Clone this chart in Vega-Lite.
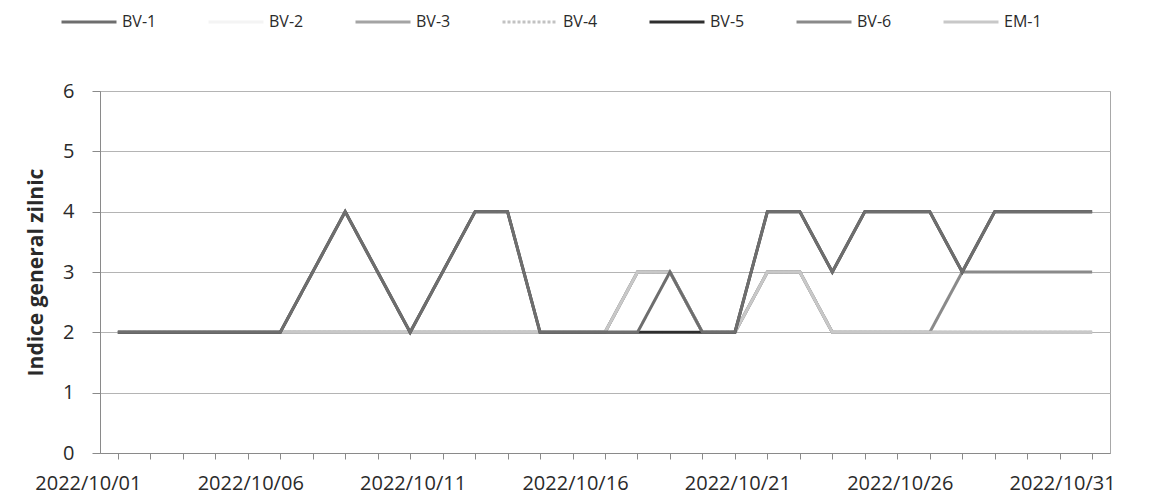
{
  "$schema": "https://vega.github.io/schema/vega-lite/v6.json",
  "width": 1010,
  "height": 362,
  "autosize": {"type": "none"},
  "padding": {"left": 100, "top": 91, "right": 56, "bottom": 49},
  "background": "white",
  "config": {
    "font": "Open Sans",
    "view": {"stroke": "#a8a8a8", "strokeWidth": 1},
    "axis": {"labelColor": "#2a2a2a", "titleColor": "#2a2a2a", "domainColor": "#8a8a8a", "tickColor": "#8a8a8a", "gridColor": "#b4b4b4"}
  },
  "data": {"values": [
    {"d":"2022/10/01","s":"BV-1","v":2},{"d":"2022/10/02","s":"BV-1","v":2},{"d":"2022/10/03","s":"BV-1","v":2},{"d":"2022/10/04","s":"BV-1","v":2},{"d":"2022/10/05","s":"BV-1","v":2},{"d":"2022/10/06","s":"BV-1","v":2},{"d":"2022/10/07","s":"BV-1","v":3},{"d":"2022/10/08","s":"BV-1","v":4},{"d":"2022/10/09","s":"BV-1","v":3},{"d":"2022/10/10","s":"BV-1","v":2},{"d":"2022/10/11","s":"BV-1","v":3},{"d":"2022/10/12","s":"BV-1","v":4},{"d":"2022/10/13","s":"BV-1","v":4},{"d":"2022/10/14","s":"BV-1","v":2},{"d":"2022/10/15","s":"BV-1","v":2},{"d":"2022/10/16","s":"BV-1","v":2},{"d":"2022/10/17","s":"BV-1","v":2},{"d":"2022/10/18","s":"BV-1","v":3},{"d":"2022/10/19","s":"BV-1","v":2},{"d":"2022/10/20","s":"BV-1","v":2},{"d":"2022/10/21","s":"BV-1","v":4},{"d":"2022/10/22","s":"BV-1","v":4},{"d":"2022/10/23","s":"BV-1","v":3},{"d":"2022/10/24","s":"BV-1","v":4},{"d":"2022/10/25","s":"BV-1","v":4},{"d":"2022/10/26","s":"BV-1","v":4},{"d":"2022/10/27","s":"BV-1","v":3},{"d":"2022/10/28","s":"BV-1","v":4},{"d":"2022/10/29","s":"BV-1","v":4},{"d":"2022/10/30","s":"BV-1","v":4},{"d":"2022/10/31","s":"BV-1","v":4},

    {"d":"2022/10/01","s":"BV-5","v":2},{"d":"2022/10/02","s":"BV-5","v":2},{"d":"2022/10/03","s":"BV-5","v":2},{"d":"2022/10/04","s":"BV-5","v":2},{"d":"2022/10/05","s":"BV-5","v":2},{"d":"2022/10/06","s":"BV-5","v":2},{"d":"2022/10/07","s":"BV-5","v":3},{"d":"2022/10/08","s":"BV-5","v":4},{"d":"2022/10/09","s":"BV-5","v":3},{"d":"2022/10/10","s":"BV-5","v":2},{"d":"2022/10/11","s":"BV-5","v":3},{"d":"2022/10/12","s":"BV-5","v":4},{"d":"2022/10/13","s":"BV-5","v":4},{"d":"2022/10/14","s":"BV-5","v":2},{"d":"2022/10/15","s":"BV-5","v":2},{"d":"2022/10/16","s":"BV-5","v":2},{"d":"2022/10/17","s":"BV-5","v":2},{"d":"2022/10/18","s":"BV-5","v":2},{"d":"2022/10/19","s":"BV-5","v":2},{"d":"2022/10/20","s":"BV-5","v":2},{"d":"2022/10/21","s":"BV-5","v":4},{"d":"2022/10/22","s":"BV-5","v":4},{"d":"2022/10/23","s":"BV-5","v":3},{"d":"2022/10/24","s":"BV-5","v":4},{"d":"2022/10/25","s":"BV-5","v":4},{"d":"2022/10/26","s":"BV-5","v":4},{"d":"2022/10/27","s":"BV-5","v":3},{"d":"2022/10/28","s":"BV-5","v":4},{"d":"2022/10/29","s":"BV-5","v":4},{"d":"2022/10/30","s":"BV-5","v":4},{"d":"2022/10/31","s":"BV-5","v":4},

    {"d":"2022/10/01","s":"EM-1","v":2},{"d":"2022/10/02","s":"EM-1","v":2},{"d":"2022/10/03","s":"EM-1","v":2},{"d":"2022/10/04","s":"EM-1","v":2},{"d":"2022/10/05","s":"EM-1","v":2},{"d":"2022/10/06","s":"EM-1","v":2},{"d":"2022/10/07","s":"EM-1","v":2},{"d":"2022/10/08","s":"EM-1","v":2},{"d":"2022/10/09","s":"EM-1","v":2},{"d":"2022/10/10","s":"EM-1","v":2},{"d":"2022/10/11","s":"EM-1","v":2},{"d":"2022/10/12","s":"EM-1","v":2},{"d":"2022/10/13","s":"EM-1","v":2},{"d":"2022/10/14","s":"EM-1","v":2},{"d":"2022/10/15","s":"EM-1","v":2},{"d":"2022/10/16","s":"EM-1","v":2},{"d":"2022/10/17","s":"EM-1","v":3},{"d":"2022/10/18","s":"EM-1","v":3},{"d":"2022/10/19","s":"EM-1","v":2},{"d":"2022/10/20","s":"EM-1","v":2},{"d":"2022/10/21","s":"EM-1","v":3},{"d":"2022/10/22","s":"EM-1","v":3},{"d":"2022/10/23","s":"EM-1","v":2},{"d":"2022/10/24","s":"EM-1","v":2},{"d":"2022/10/25","s":"EM-1","v":2},{"d":"2022/10/26","s":"EM-1","v":2},{"d":"2022/10/27","s":"EM-1","v":2},{"d":"2022/10/28","s":"EM-1","v":2},{"d":"2022/10/29","s":"EM-1","v":2},{"d":"2022/10/30","s":"EM-1","v":2},{"d":"2022/10/31","s":"EM-1","v":2},

    {"d":"2022/10/01","s":"BV-6","v":2},{"d":"2022/10/02","s":"BV-6","v":2},{"d":"2022/10/03","s":"BV-6","v":2},{"d":"2022/10/04","s":"BV-6","v":2},{"d":"2022/10/05","s":"BV-6","v":2},{"d":"2022/10/06","s":"BV-6","v":2},{"d":"2022/10/07","s":"BV-6","v":2},{"d":"2022/10/08","s":"BV-6","v":2},{"d":"2022/10/09","s":"BV-6","v":2},{"d":"2022/10/10","s":"BV-6","v":2},{"d":"2022/10/11","s":"BV-6","v":2},{"d":"2022/10/12","s":"BV-6","v":2},{"d":"2022/10/13","s":"BV-6","v":2},{"d":"2022/10/14","s":"BV-6","v":2},{"d":"2022/10/15","s":"BV-6","v":2},{"d":"2022/10/16","s":"BV-6","v":2},{"d":"2022/10/17","s":"BV-6","v":3},{"d":"2022/10/18","s":"BV-6","v":3},{"d":"2022/10/19","s":"BV-6","v":2},{"d":"2022/10/20","s":"BV-6","v":2},{"d":"2022/10/21","s":"BV-6","v":3},{"d":"2022/10/22","s":"BV-6","v":3},{"d":"2022/10/23","s":"BV-6","v":2},{"d":"2022/10/24","s":"BV-6","v":2},{"d":"2022/10/25","s":"BV-6","v":2},{"d":"2022/10/26","s":"BV-6","v":2},{"d":"2022/10/27","s":"BV-6","v":3},{"d":"2022/10/28","s":"BV-6","v":3},{"d":"2022/10/29","s":"BV-6","v":3},{"d":"2022/10/30","s":"BV-6","v":3},{"d":"2022/10/31","s":"BV-6","v":3},

    {"d":"2022/10/01","s":"BV-2","v":2},{"d":"2022/10/02","s":"BV-2","v":2},{"d":"2022/10/03","s":"BV-2","v":2},{"d":"2022/10/04","s":"BV-2","v":2},{"d":"2022/10/05","s":"BV-2","v":2},{"d":"2022/10/06","s":"BV-2","v":2},{"d":"2022/10/07","s":"BV-2","v":2},{"d":"2022/10/08","s":"BV-2","v":2},{"d":"2022/10/09","s":"BV-2","v":2},{"d":"2022/10/10","s":"BV-2","v":2},{"d":"2022/10/11","s":"BV-2","v":2},{"d":"2022/10/12","s":"BV-2","v":2},{"d":"2022/10/13","s":"BV-2","v":2},{"d":"2022/10/14","s":"BV-2","v":2},{"d":"2022/10/15","s":"BV-2","v":2},{"d":"2022/10/16","s":"BV-2","v":2},{"d":"2022/10/17","s":"BV-2","v":3},{"d":"2022/10/18","s":"BV-2","v":3},{"d":"2022/10/19","s":"BV-2","v":2},{"d":"2022/10/20","s":"BV-2","v":2},{"d":"2022/10/21","s":"BV-2","v":3},{"d":"2022/10/22","s":"BV-2","v":3},{"d":"2022/10/23","s":"BV-2","v":2},{"d":"2022/10/24","s":"BV-2","v":2},{"d":"2022/10/25","s":"BV-2","v":2},{"d":"2022/10/26","s":"BV-2","v":2},{"d":"2022/10/27","s":"BV-2","v":2},{"d":"2022/10/28","s":"BV-2","v":2},{"d":"2022/10/29","s":"BV-2","v":2},{"d":"2022/10/30","s":"BV-2","v":2},{"d":"2022/10/31","s":"BV-2","v":2},

    {"d":"2022/10/01","s":"BV-3","v":2},{"d":"2022/10/02","s":"BV-3","v":2},{"d":"2022/10/03","s":"BV-3","v":2},{"d":"2022/10/04","s":"BV-3","v":2},{"d":"2022/10/05","s":"BV-3","v":2},{"d":"2022/10/06","s":"BV-3","v":2},{"d":"2022/10/07","s":"BV-3","v":2},{"d":"2022/10/08","s":"BV-3","v":2},{"d":"2022/10/09","s":"BV-3","v":2},{"d":"2022/10/10","s":"BV-3","v":2},{"d":"2022/10/11","s":"BV-3","v":2},{"d":"2022/10/12","s":"BV-3","v":2},{"d":"2022/10/13","s":"BV-3","v":2},{"d":"2022/10/14","s":"BV-3","v":2},{"d":"2022/10/15","s":"BV-3","v":2},{"d":"2022/10/16","s":"BV-3","v":2},{"d":"2022/10/17","s":"BV-3","v":3},{"d":"2022/10/18","s":"BV-3","v":3},{"d":"2022/10/19","s":"BV-3","v":2},{"d":"2022/10/20","s":"BV-3","v":2},{"d":"2022/10/21","s":"BV-3","v":3},{"d":"2022/10/22","s":"BV-3","v":3},{"d":"2022/10/23","s":"BV-3","v":2},{"d":"2022/10/24","s":"BV-3","v":2},{"d":"2022/10/25","s":"BV-3","v":2},{"d":"2022/10/26","s":"BV-3","v":2},{"d":"2022/10/27","s":"BV-3","v":2},{"d":"2022/10/28","s":"BV-3","v":2},{"d":"2022/10/29","s":"BV-3","v":2},{"d":"2022/10/30","s":"BV-3","v":2},{"d":"2022/10/31","s":"BV-3","v":2},

    {"d":"2022/10/01","s":"BV-4","v":2},{"d":"2022/10/02","s":"BV-4","v":2},{"d":"2022/10/03","s":"BV-4","v":2},{"d":"2022/10/04","s":"BV-4","v":2},{"d":"2022/10/05","s":"BV-4","v":2},{"d":"2022/10/06","s":"BV-4","v":2},{"d":"2022/10/07","s":"BV-4","v":2},{"d":"2022/10/08","s":"BV-4","v":2},{"d":"2022/10/09","s":"BV-4","v":2},{"d":"2022/10/10","s":"BV-4","v":2},{"d":"2022/10/11","s":"BV-4","v":2},{"d":"2022/10/12","s":"BV-4","v":2},{"d":"2022/10/13","s":"BV-4","v":2},{"d":"2022/10/14","s":"BV-4","v":2},{"d":"2022/10/15","s":"BV-4","v":2},{"d":"2022/10/16","s":"BV-4","v":2},{"d":"2022/10/17","s":"BV-4","v":3},{"d":"2022/10/18","s":"BV-4","v":3},{"d":"2022/10/19","s":"BV-4","v":2},{"d":"2022/10/20","s":"BV-4","v":2},{"d":"2022/10/21","s":"BV-4","v":3},{"d":"2022/10/22","s":"BV-4","v":3},{"d":"2022/10/23","s":"BV-4","v":2},{"d":"2022/10/24","s":"BV-4","v":2},{"d":"2022/10/25","s":"BV-4","v":2},{"d":"2022/10/26","s":"BV-4","v":2},{"d":"2022/10/27","s":"BV-4","v":2},{"d":"2022/10/28","s":"BV-4","v":2},{"d":"2022/10/29","s":"BV-4","v":2},{"d":"2022/10/30","s":"BV-4","v":2},{"d":"2022/10/31","s":"BV-4","v":2}
  ]},
  "encoding": {
    "x": {
      "field": "d", "type": "ordinal", "sort": null,
      "scale": {"type": "point", "padding": 0.55},
      "axis": {
        "title": null, "labelAngle": 0, "labelFontSize": 20, "labelPadding": 14,
        "tickSize": 6, "labelOverlap": false, "labelBound": false, "labelOffset": -30,
        "labelExpr": "(toNumber(substring(datum.value,8,10))-1)%5==0 ? datum.value : ''",
        "grid": false
      }
    },
    "y": {
      "field": "v", "type": "quantitative",
      "scale": {"domain": [0, 6], "nice": false},
      "axis": {
        "title": "Indice general zilnic", "titleFontSize": 21, "titleFontWeight": "bold",
        "titlePadding": 16, "values": [0,1,2,3,4,5,6], "labelFontSize": 20,
        "labelPadding": 18, "tickSize": 8, "grid": true, "domain": true
      }
    },
    "color": {
      "field": "s", "type": "nominal",
      "scale": {
        "domain": ["BV-1","BV-2","BV-3","BV-4","BV-5","BV-6","EM-1"],
        "range": ["#6e6e6e","#f4f4f4","#a4a4a4","#c2c2c2","#2e2e2e","#8a8a8a","#c8c8c8"]
      },
      "legend": {
        "title": null, "orient": "none", "direction": "horizontal",
        "legendX": -40, "legendY": -98, "padding": 0,
        "symbolType": "stroke", "symbolSize": 3025, "symbolStrokeWidth": 3,
        "labelFontSize": 16, "labelColor": "#2a2a2a", "labelOffset": 4,
        "columnPadding": 42, "gridAlign": "all"
      }
    },
    "strokeDash": {
      "field": "s", "type": "nominal",
      "scale": {
        "domain": ["BV-1","BV-2","BV-3","BV-4","BV-5","BV-6","EM-1"],
        "range": [[1,0],[1,0],[1,0],[3,2],[1,0],[1,0],[1,0]]
      },
      "legend": {
        "title": null, "orient": "none", "direction": "horizontal",
        "legendX": -40, "legendY": -98, "padding": 0,
        "symbolType": "stroke", "symbolSize": 3025, "symbolStrokeWidth": 3,
        "labelFontSize": 16, "labelColor": "#2a2a2a", "labelOffset": 4,
        "columnPadding": 42, "gridAlign": "all"
      }
    }
  },
  "layer": [
    {"transform": [{"filter": "datum.s === 'BV-2'"}], "mark": {"type": "line", "strokeWidth": 3}},
    {"transform": [{"filter": "datum.s === 'BV-3'"}], "mark": {"type": "line", "strokeWidth": 3}},
    {"transform": [{"filter": "datum.s === 'BV-4'"}], "mark": {"type": "line", "strokeWidth": 3}},
    {"transform": [{"filter": "datum.s === 'BV-6'"}], "mark": {"type": "line", "strokeWidth": 3}},
    {"transform": [{"filter": "datum.s === 'EM-1'"}], "mark": {"type": "line", "strokeWidth": 3}},
    {"transform": [{"filter": "datum.s === 'BV-5'"}], "mark": {"type": "line", "strokeWidth": 3}},
    {"transform": [{"filter": "datum.s === 'BV-1'"}], "mark": {"type": "line", "strokeWidth": 3}}
  ]
}
